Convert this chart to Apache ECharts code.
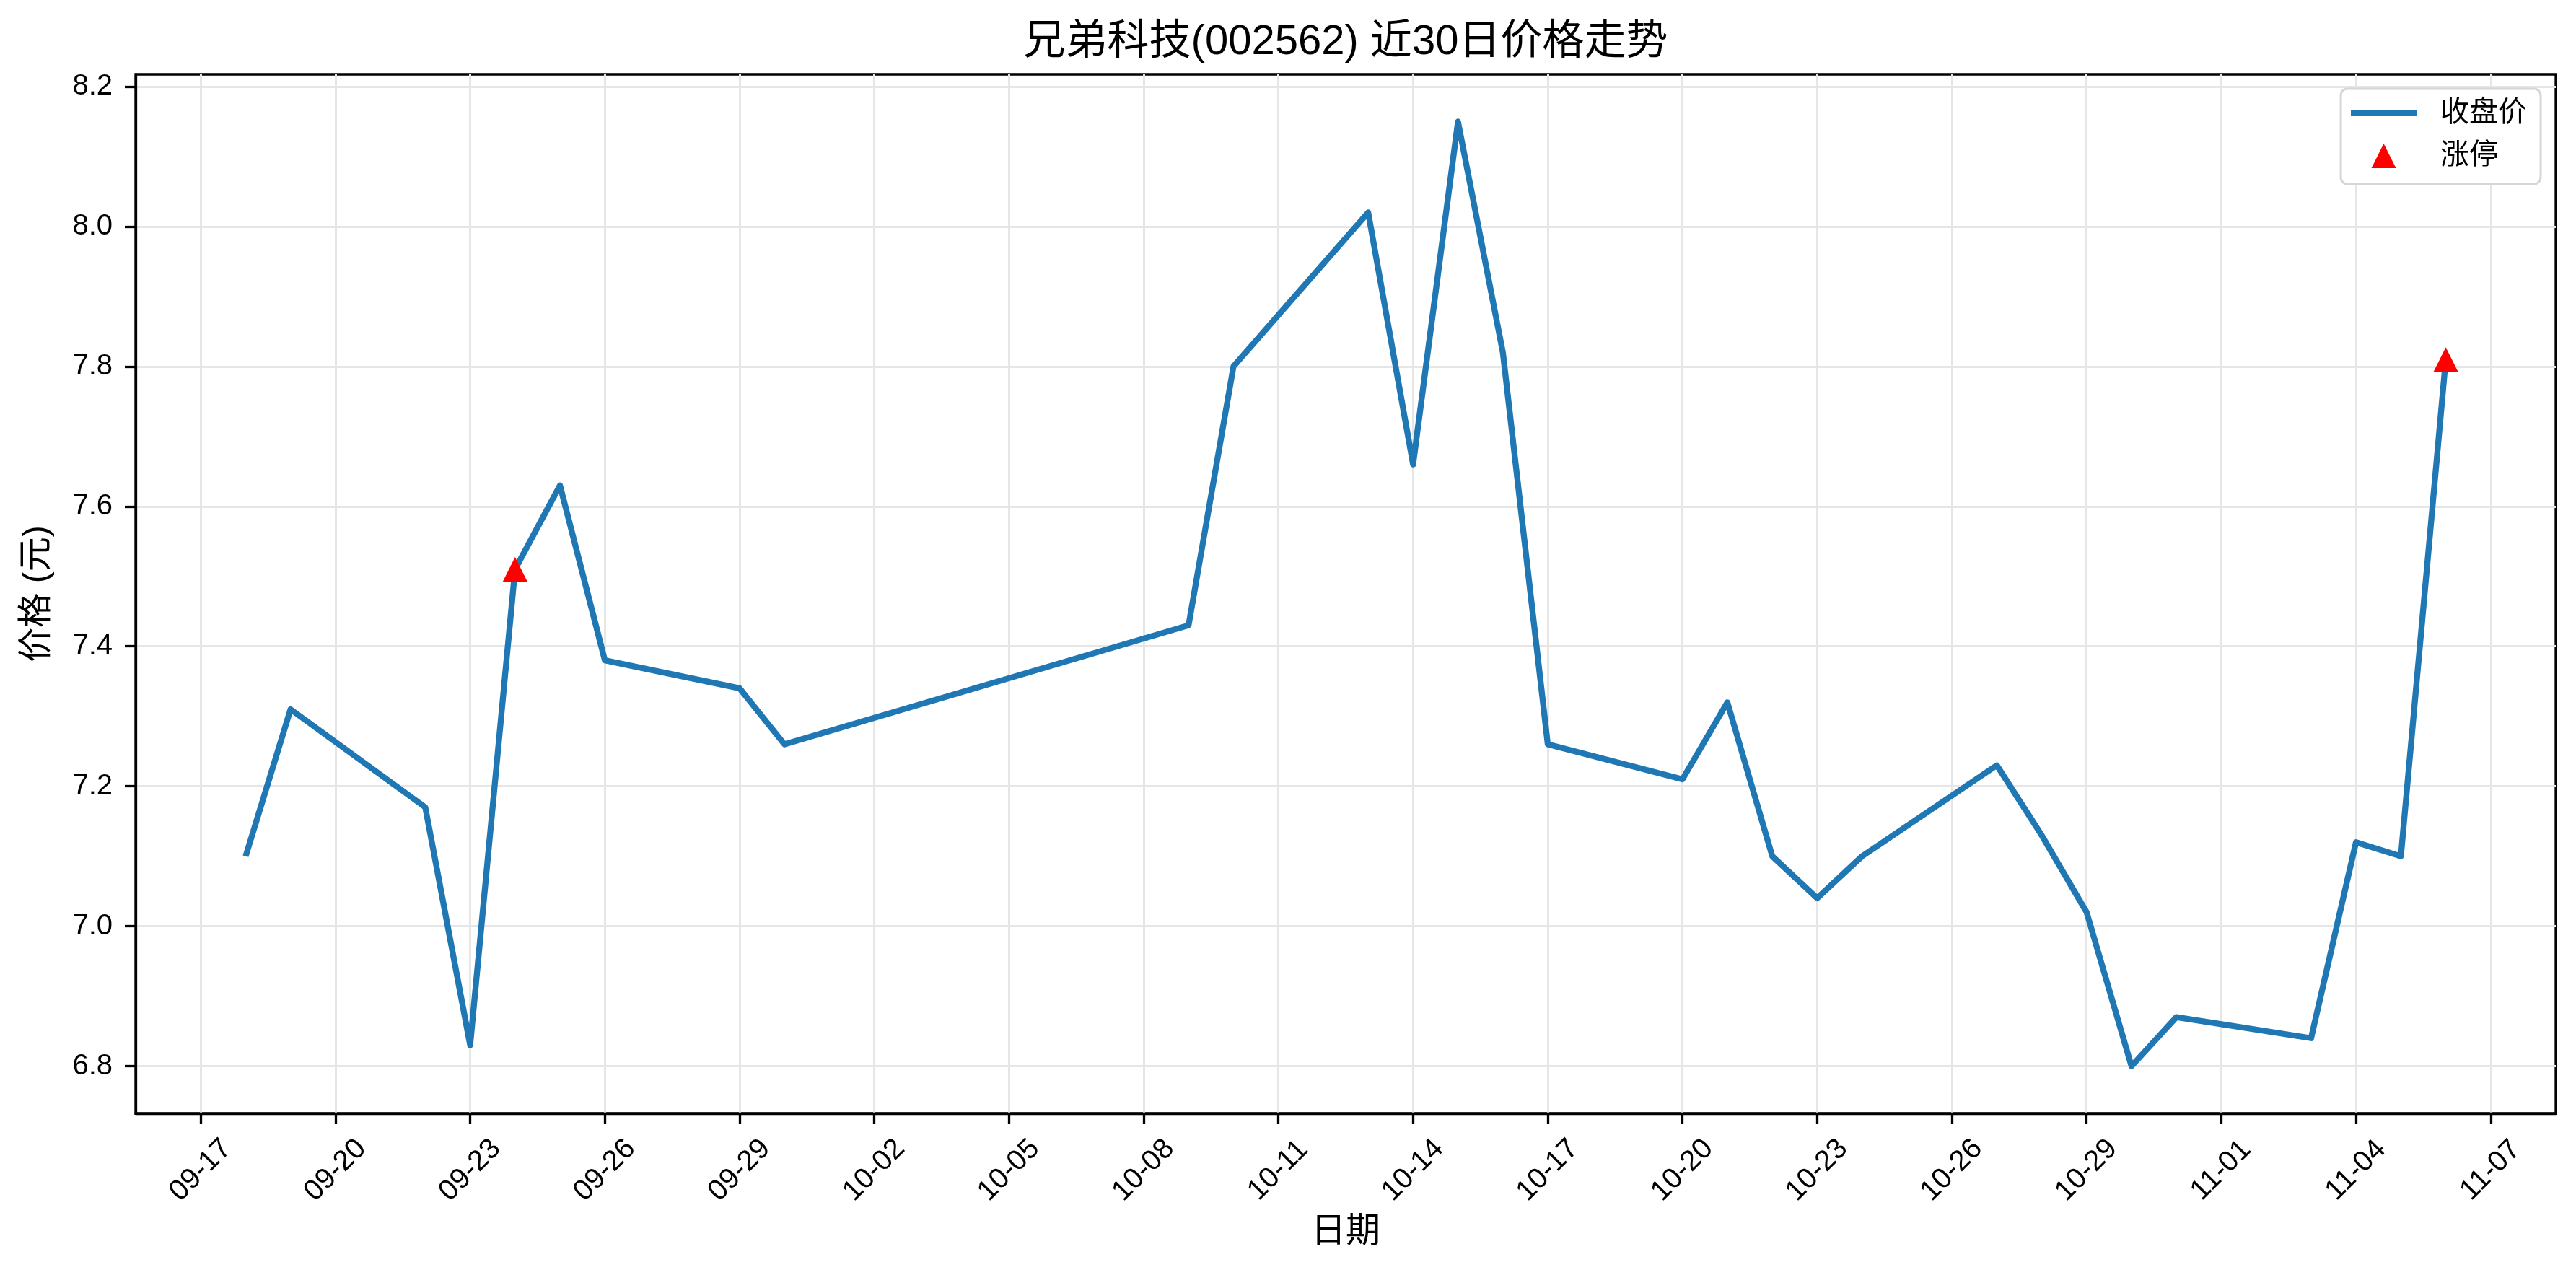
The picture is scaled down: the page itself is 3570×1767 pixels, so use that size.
<!DOCTYPE html>
<html><head><meta charset="utf-8">
<script src="https://cdn.jsdelivr.net/npm/echarts@6/dist/echarts.min.js"></script>
<style>html,body{margin:0;padding:0;background:#fff}#c{width:3570px;height:1767px}</style>
</head><body><div id="c"></div>
<script>
const dates = ['2025-09-18','2025-09-19','2025-09-22','2025-09-23','2025-09-24','2025-09-25','2025-09-26','2025-09-29','2025-09-30',
  '2025-10-09','2025-10-10','2025-10-13','2025-10-14','2025-10-15','2025-10-16','2025-10-17','2025-10-20','2025-10-21','2025-10-22',
  '2025-10-23','2025-10-24','2025-10-27','2025-10-28','2025-10-29','2025-10-30','2025-10-31','2025-11-03','2025-11-04','2025-11-05','2025-11-06'];
const closes = [7.10,7.31,7.17,6.83,7.51,7.63,7.38,7.34,7.26,
  7.43,7.80,8.02,7.66,8.15,7.82,7.26,7.21,7.32,7.10,
  7.04,7.10,7.23,7.13,7.02,6.80,6.87,6.84,7.12,7.10,7.81];
const limitUpDates = ['2025-09-24','2025-11-06'];
const limitUpPrices = [7.51,7.81];
const xTickDates = ['2025-09-17','2025-09-20','2025-09-23','2025-09-26','2025-09-29','2025-10-02','2025-10-05','2025-10-08','2025-10-11',
  '2025-10-14','2025-10-17','2025-10-20','2025-10-23','2025-10-26','2025-10-29','2025-11-01','2025-11-04','2025-11-07'];
const xTickLabels = ['09-17','09-20','09-23','09-26','09-29','10-02','10-05','10-08','10-11',
  '10-14','10-17','10-20','10-23','10-26','10-29','11-01','11-04','11-07'];
const yTicks = [6.8,7.0,7.2,7.4,7.6,7.8,8.0,8.2];

const DAY = 86400000;
const origin = Date.UTC(2025,8,17);
function dayNum(s){ const p = s.split('-').map(Number); return Math.round((Date.UTC(p[0],p[1]-1,p[2]) - origin)/DAY); }
const xs = dates.map(dayNum);
const xTickValues = xTickDates.map(dayNum);
const xr = xs[xs.length-1] - xs[0];
const xMin = xs[0] - 0.05*xr, xMax = xs[xs.length-1] + 0.05*xr;
const yLo = Math.min(...closes), yHi = Math.max(...closes);
const yMin = yLo - 0.05*(yHi-yLo), yMax = yHi + 0.05*(yHi-yLo);

const FF = '"Liberation Sans", "Noto Sans CJK SC", Arial, sans-serif';
const chart = echarts.init(document.getElementById('c'), null, {renderer:'canvas'});
chart.setOption({
  animation: false,
  backgroundColor: '#fff',
  textStyle: {fontFamily: FF},
  title: {
    text: '兄弟科技(002562) 近30日价格走势',
    left: 1865, top: 30, textAlign: 'center', padding: 0,
    textStyle: {fontSize: 58, fontWeight: 'normal', color: '#000', fontFamily: FF}
  },
  legend: {
    orient: 'vertical', right: 49, top: 123,
    padding: [14,19,19,14], itemGap: 19,
    itemWidth: 91, itemHeight: 34,
    backgroundColor: '#fff', borderColor: '#d6d6d6', borderWidth: 3, borderRadius: 9,
    itemStyle: {borderWidth: 0, opacity: 1},
    textStyle: {fontSize: 40, color: '#000', fontFamily: FF, padding: [0,0,0,28]},
    data: [
      {name: '收盘价', icon: 'path://M0,0H91V8H0Z'},
      {name: '涨停', icon: 'path://M0.5,0L1,1L0,1Z', itemStyle: {color: '#ff0000', opacity: 1}}
    ]
  },
  grid: {left: 188, right: 28, top: 103, bottom: 224, show: true, borderColor: '#000', borderWidth: 3.3, containLabel: false, outerBoundsMode: 'none'},
  xAxis: {
    type: 'value', min: xMin, max: xMax,
    name: '日期', nameLocation: 'middle', nameGap: 141,
    nameTextStyle: {fontSize: 48, color: '#000', fontFamily: FF},
    axisLine: {show: true, onZero: false, lineStyle: {color: '#000', width: 3.3}},
    axisTick: {show: true, length: 15, customValues: xTickValues, lineStyle: {color: '#000', width: 3.3}},
    axisLabel: {
      customValues: xTickValues, rotate: 45, align: 'center', verticalAlign: 'middle', margin: 79,
      fontSize: 40, color: '#000', fontFamily: FF,
      formatter: function(v){ const i = xTickValues.indexOf(Math.round(v)); return i >= 0 ? xTickLabels[i] : ''; }
    },
    splitLine: {show: true, lineStyle: {color: '#e6e6e6', width: 3}}
  },
  yAxis: {
    type: 'value', min: yMin, max: yMax,
    name: '价格 (元)', nameLocation: 'middle', nameGap: 112,
    nameTextStyle: {fontSize: 48, color: '#000', fontFamily: FF},
    axisLine: {show: true, onZero: false, lineStyle: {color: '#000', width: 3.3}},
    axisTick: {show: true, length: 15, customValues: yTicks, lineStyle: {color: '#000', width: 3.3}},
    axisLabel: {customValues: yTicks, margin: 32, fontSize: 40, color: '#000', fontFamily: FF,
      formatter: function(v){ return Number(v).toFixed(1); }},
    splitLine: {show: true, lineStyle: {color: '#e6e6e6', width: 3}}
  },
  series: [
    {
      name: '收盘价', type: 'line', showSymbol: false, symbol: 'none', z: 2,
      lineStyle: {color: '#1f77b4', width: 8.3, join: 'round'},
      itemStyle: {color: '#1f77b4'},
      data: xs.map((x,i) => [x, closes[i]])
    },
    {
      name: '涨停', type: 'scatter', symbol: 'triangle', symbolSize: 34, z: 3,
      itemStyle: {color: '#ff0000', opacity: 1},
      data: limitUpDates.map((d,i) => [dayNum(d), limitUpPrices[i]])
    }
  ]
});
</script></body></html>
